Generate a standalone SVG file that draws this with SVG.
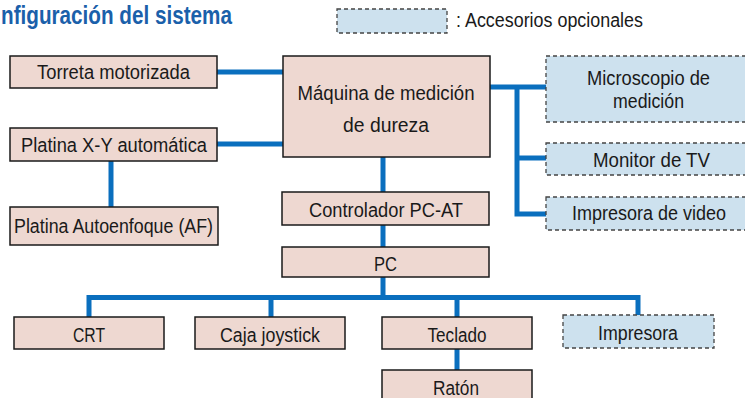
<svg xmlns="http://www.w3.org/2000/svg" width="745" height="398" viewBox="0 0 745 398">
<style>
.n{fill:#eed8d1;stroke:#1a1a1a;stroke-width:1.5}
.o{fill:#cde1ee;stroke:#444;stroke-width:1.3;stroke-dasharray:4 3}
.t{font-family:"Liberation Sans",Arial,sans-serif;font-size:20px;fill:#1a1a1a;text-anchor:middle}
.c{fill:none;stroke:#0a6fbe;stroke-width:5}
.title{font-family:"Liberation Sans",Arial,sans-serif;font-size:25px;font-weight:bold;fill:#1a60aa}
</style>
<text class="title" x="1" y="24" textLength="231" lengthAdjust="spacingAndGlyphs">nfiguración del sistema</text>
<g id="legend">
<rect class="o" x="337" y="9" width="110" height="24"/>
<text class="t" x="456" y="27" style="text-anchor:start" textLength="187" lengthAdjust="spacingAndGlyphs">: Accesorios opcionales</text>
</g>
<g id="connectors">
<path class="c" d="M217 72H283"/>
<path class="c" d="M217 144H283"/>
<path class="c" d="M111 161V207"/>
<path class="c" d="M490 87H546"/>
<path class="c" d="M517 87V214H546"/>
<path class="c" d="M517 158H546"/>
<path class="c" d="M383 157V192"/>
<path class="c" d="M383 225V247"/>
<path class="c" d="M383 277V297.5"/>
<path class="c" d="M89 317V297.5H638V315"/>
<path class="c" d="M271 297.5V317"/>
<path class="c" d="M457 297.5V317"/>
<path class="c" d="M457 349V370"/>
</g>
<g id="torreta">
<rect class="n" x="10" y="56" width="207" height="32"/>
<text class="t" x="113.5" y="79" textLength="153" lengthAdjust="spacingAndGlyphs">Torreta motorizada</text>
</g>
<g id="maquina">
<rect class="n" x="283" y="56" width="207" height="101"/>
<text class="t" x="386" y="100" textLength="177" lengthAdjust="spacingAndGlyphs">Máquina de medición</text>
<text class="t" x="386" y="132" textLength="86" lengthAdjust="spacingAndGlyphs">de dureza</text>
</g>
<g id="platinaxy">
<rect class="n" x="10" y="128" width="207" height="33"/>
<text class="t" x="114" y="152" textLength="186" lengthAdjust="spacingAndGlyphs">Platina X-Y automática</text>
</g>
<g id="platinaaf">
<rect class="n" x="10" y="207" width="208" height="38"/>
<text class="t" x="113.5" y="233" textLength="199" lengthAdjust="spacingAndGlyphs">Platina Autoenfoque (AF)</text>
</g>
<g id="microscopio">
<rect class="o" x="546" y="56" width="200" height="66"/>
<text class="t" x="648.5" y="85" textLength="123" lengthAdjust="spacingAndGlyphs">Microscopio de</text>
<text class="t" x="648.5" y="108" textLength="71" lengthAdjust="spacingAndGlyphs">medición</text>
</g>
<g id="monitor">
<rect class="o" x="546" y="143" width="200" height="32"/>
<text class="t" x="651.5" y="167" textLength="117" lengthAdjust="spacingAndGlyphs">Monitor de TV</text>
</g>
<g id="impresoravideo">
<rect class="o" x="546" y="197" width="200" height="33"/>
<text class="t" x="649" y="220" textLength="154" lengthAdjust="spacingAndGlyphs">Impresora de video</text>
</g>
<g id="controlador">
<rect class="n" x="282" y="192" width="207" height="33"/>
<text class="t" x="386" y="217" textLength="154" lengthAdjust="spacingAndGlyphs">Controlador PC-AT</text>
</g>
<g id="pc">
<rect class="n" x="282" y="247" width="207" height="30"/>
<text class="t" x="385.5" y="271" textLength="23" lengthAdjust="spacingAndGlyphs">PC</text>
</g>
<g id="crt">
<rect class="n" x="14" y="317" width="150" height="32"/>
<text class="t" x="89" y="342" textLength="32" lengthAdjust="spacingAndGlyphs">CRT</text>
</g>
<g id="joystick">
<rect class="n" x="195" y="317" width="150" height="32"/>
<text class="t" x="270" y="342" textLength="100" lengthAdjust="spacingAndGlyphs">Caja joystick</text>
</g>
<g id="teclado">
<rect class="n" x="382" y="317" width="150" height="32"/>
<text class="t" x="457" y="342" textLength="59" lengthAdjust="spacingAndGlyphs">Teclado</text>
</g>
<g id="impresora">
<rect class="o" x="563" y="315" width="151" height="33"/>
<text class="t" x="638" y="340" textLength="80" lengthAdjust="spacingAndGlyphs">Impresora</text>
</g>
<g id="raton">
<rect class="n" x="382" y="370" width="150" height="34"/>
<text class="t" x="456" y="395" textLength="46" lengthAdjust="spacingAndGlyphs">Ratón</text>
</g>
</svg>
